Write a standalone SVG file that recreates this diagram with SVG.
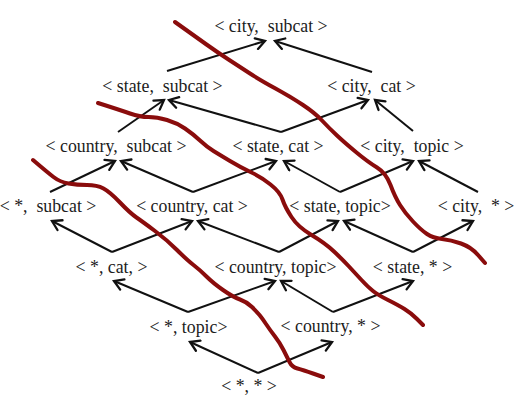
<svg xmlns="http://www.w3.org/2000/svg" width="518" height="407" viewBox="0 0 518 407">
<defs>
<marker id="ah" markerUnits="userSpaceOnUse" markerWidth="14" markerHeight="14" viewBox="-10 -7 12 14" refX="0" refY="0" orient="auto">
<path d="M-9,-5.5 L0,0 L-9,5.5" fill="none" stroke="#111" stroke-width="2.3" stroke-linecap="round" stroke-linejoin="miter"/>
</marker>
<style>
text{font-family:"Liberation Serif","DejaVu Serif",serif;font-size:17.8px;fill:#1c1c1c;text-anchor:middle;white-space:pre}
.e{stroke:#111;stroke-width:2;fill:none;marker-end:url(#ah)}
.r{stroke:#8a0c0c;stroke-width:4;fill:none;stroke-linejoin:round;stroke-linecap:round}
</style>
</defs>
<rect width="518" height="407" fill="#fff"/>
<g id="connectors">
<line class="e" x1="167" y1="71" x2="265" y2="41"/>
<line class="e" x1="372" y1="72" x2="275" y2="41"/>
<line class="e" x1="118" y1="132" x2="164" y2="100"/>
<line class="e" x1="281" y1="132" x2="169" y2="100"/>
<line class="e" x1="281" y1="132" x2="368" y2="100"/>
<line class="e" x1="413" y1="131" x2="375" y2="100"/>
<line class="e" x1="50" y1="192" x2="115" y2="161"/>
<line class="e" x1="193" y1="192" x2="121" y2="161"/>
<line class="e" x1="193" y1="192" x2="276" y2="161"/>
<line class="e" x1="340" y1="192" x2="284" y2="161"/>
<line class="e" x1="340" y1="192" x2="413" y2="161"/>
<line class="e" x1="478" y1="192" x2="419" y2="161"/>
<line class="e" x1="112" y1="252" x2="52" y2="221"/>
<line class="e" x1="112" y1="252" x2="192" y2="221"/>
<line class="e" x1="279" y1="252" x2="198" y2="221"/>
<line class="e" x1="279" y1="252" x2="338" y2="221"/>
<line class="e" x1="413" y1="252" x2="344" y2="221"/>
<line class="e" x1="413" y1="252" x2="473" y2="221"/>
<line class="e" x1="188" y1="312" x2="114" y2="281"/>
<line class="e" x1="188" y1="312" x2="275" y2="281"/>
<line class="e" x1="333" y1="312" x2="281" y2="281"/>
<line class="e" x1="333" y1="312" x2="413" y2="281"/>
<line class="e" x1="258" y1="373" x2="190" y2="342"/>
<line class="e" x1="258" y1="373" x2="332" y2="342"/>
</g>
<g id="n-city-subcat"><text x="271" y="32">&lt; city,  subcat &gt;</text></g>
<g id="n-state-subcat"><text x="162.5" y="92">&lt; state,  subcat &gt;</text></g>
<g id="n-city-cat"><text x="371.5" y="92">&lt; city,  cat &gt;</text></g>
<g id="n-country-subcat"><text x="116" y="152">&lt; country,  subcat &gt;</text></g>
<g id="n-state-cat"><text x="278" y="152">&lt; state, cat &gt;</text></g>
<g id="n-city-topic"><text x="412" y="152">&lt; city,  topic &gt;</text></g>
<g id="n-all-subcat"><text x="48" y="212">&lt; *,  subcat &gt;</text></g>
<g id="n-country-cat"><text x="192" y="212">&lt; country, cat &gt;</text></g>
<g id="n-state-topic"><text x="340" y="212">&lt; state, topic&gt;</text></g>
<g id="n-city-all"><text x="476" y="212">&lt; city,  * &gt;</text></g>
<g id="n-all-cat"><text x="111.5" y="273">&lt; *, cat, &gt;</text></g>
<g id="n-country-topic"><text x="275.5" y="273">&lt; country, topic&gt;</text></g>
<g id="n-state-all"><text x="412.5" y="273">&lt; state, * &gt;</text></g>
<g id="n-all-topic"><text x="188.5" y="333">&lt; *, topic&gt;</text></g>
<g id="n-country-all"><text x="330.5" y="332">&lt; country, * &gt;</text></g>
<g id="n-all-all"><text x="249" y="392">&lt; *, * &gt;</text></g>
<g id="cuts">
<path class="r" d="M175,22 Q196,37 206.5,44.5 Q217,52 228.5,59.5 Q240,67 250,73.5 Q260,80 275.5,88.5 Q291,97 303,105 Q315,113 322,120.5 Q329,128 337,135.5 Q345,143 356.5,152.5 Q368,162 377,167.5 Q386,173 390.5,185 Q395,197 400,205 Q405,213 413,221.5 Q421,230 427,234 Q433,238 442,239 Q451,240 461,243.5 Q471,247 478,255 L485,263"/>
<path class="r" d="M98,103 Q120,110 130,113.5 Q140,117 148.5,117 Q157,117 167,120 Q177,123 185,128.5 Q193,134 200,140.5 Q207,147 213.5,151 Q220,155 230,161 Q240,167 250.5,172 Q261,177 270.5,184.5 Q280,192 282.5,199.5 Q285,207 291.5,217 Q298,227 311.5,235 Q325,243 334,251.5 Q343,260 349,266.5 Q355,273 361.5,280 Q368,287 373,291 Q378,295 388,300 Q398,305 404.5,309 Q411,313 417,319 L423,325"/>
<path class="r" d="M33,160 Q47,172 53.5,177 Q60,182 68.5,183.5 Q77,185 87,185 Q97,185 103.5,188.5 Q110,192 120,202.5 Q130,213 136.5,217.5 Q143,222 155,231 Q167,240 177,250 Q187,260 193.5,265 Q200,270 206.5,276.5 Q213,283 223,290 Q233,297 240,299.5 Q247,302 252,307 Q257,312 259.5,315 Q262,318 266,324 Q270,330 275,336.5 Q280,343 283.5,350 Q287,357 289.5,362 Q292,367 297.5,368.5 Q303,370 313,373.5 L323,377"/>
</g>
</svg>
